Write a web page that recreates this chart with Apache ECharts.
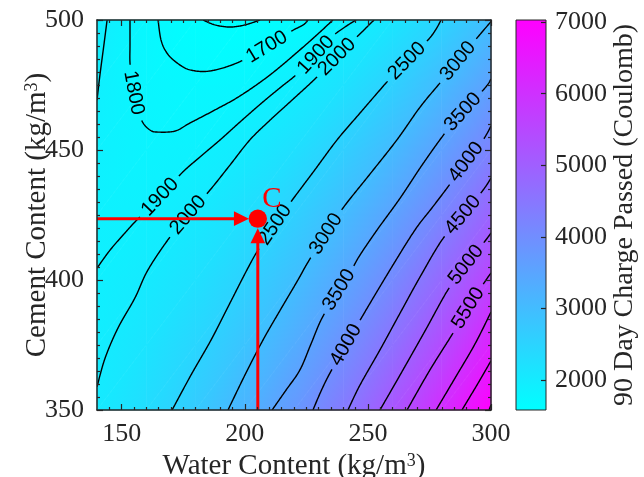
<!DOCTYPE html>
<html>
<head>
<meta charset="utf-8">
<script src="https://cdn.jsdelivr.net/npm/echarts@6/dist/echarts.min.js"></script>
<style>
html,body{margin:0;padding:0;background:#ffffff;}
#chart{width:644px;height:477px;}
</style>
</head>
<body>
<div id="chart"></div>
<script>
// ---------- data ----------
const waterNodes = [140,160,180,200,220,240,260,280,300];
const cementNodes = [350,375,400,425,450,475,500];
// rows follow cementNodes (350 -> 500), columns follow waterNodes (140 -> 300)
const chargeGrid = [
  [2030,2313,2694,3173,3751,4427,5202,6075,7046],
  [1956,2153,2450,2845,3339,3932,4624,5415,6305],
  [1906,2019,2230,2541,2952,3462,4072,4781,5589],
  [1882,1909,2036,2263,2590,3017,3544,4171,4898],
  [1883,1824,1867,2010,2253,2597,3041,3587,4232],
  [1908,1765,1723,1781,1941,2202,2564,3027,3591],
  [1959,1730,1603,1578,1654,1832,2111,2492,2975]
];
const colorMin = 1580, colorMax = 7030;
const colorTicks = [2000,3000,4000,5000,6000,7000];
const waterTicks = [150,200,250,300];
const cementTicks = [350,400,450,500];

const contour1600 = [[183.1,500],[187.9,498.1],[194.0,497.3],[200.1,498.1],[206.2,500]];
const contour1700 = [[164.8,500],[166.0,492.3],[168.4,487.3],[172.5,483.5],[177.8,480.8],[185.9,480.4],[196.9,483.5],[209.0,489.6],[218.4,495.4],[223.7,498.1],[225.7,500]];
const contour1800 = [[153.4,500],[153.4,490.4],[153.4,483.5],[154.2,476.9],[155.4,469.2],[157.1,464.2],[158.7,460.4],[161.5,457.7],[164.4,456.9],[171.7,457.3],[177.8,460.4],[187.9,465.4],[198.1,470.8],[210.3,478.9],[222.4,488.5],[230.6,495.4],[235.8,500]];
const contour1900a = [[144.1,500],[142.8,490.4],[141.2,478.9],[140.0,469.2]];
const contour1900b = [[140.0,404.6],[145.3,411.5],[150.6,417.3],[156.2,423.1],[165.6,431.9],[174.5,441.2],[181.8,447.3],[190.0,453.9],[198.1,460.8],[207.4,468.5],[214.3,473.9],[221.2,479.2],[228.9,486.5],[235.4,493.5],[240.7,497.3],[245.2,500]];
const contour2000 = [[140.0,358.9],[143.3,370.0],[148.5,381.5],[155.4,393.1],[160.7,403.9],[169.6,416.5],[177.0,425.0],[185.9,434.6],[194.0,444.2],[202.1,453.9],[210.3,461.5],[218.4,468.5],[228.5,477.3],[237.5,485.8],[246.0,493.9],[249.2,496.9],[252.5,500]];
const contour2500 = [[170.5,350],[178.2,363.5],[186.3,376.9],[193.6,390.4],[200.9,403.9],[205.4,411.5],[212.3,421.2],[218.4,429.6],[228.1,441.9],[237.5,453.9],[246.8,464.2],[254.9,473.1],[257.8,476.2],[265.9,484.2],[274.4,492.3],[277.7,496.5],[279.7,500]];
const contour3000 = [[193.2,350],[200.1,363.5],[207.4,376.9],[214.7,388.9],[221.6,400],[225.7,406.9],[233.0,417.7],[239.9,427.7],[250.9,440.8],[261.8,453.9],[271.2,466.5],[279.3,475.8],[286.6,484.2],[294.7,493.5],[300,499.4]];
const contour3500 = [[211.1,350],[216.8,357.7],[222.4,365.4],[226.9,375.4],[231.4,385.4],[238.3,396.2],[244.0,405.0],[246.8,409.6],[253.7,419.2],[263.1,431.5],[272.0,444.2],[281.3,456.5],[288.6,464.6],[297.6,473.9],[300,477.3]];
const contour4000 = [[227.7,350],[231.0,357.3],[234.6,364.2],[241.1,375.0],[247.6,385.8],[259.0,403.9],[269.1,419.2],[276.0,427.7],[282.5,435.8],[289.9,445.4],[296.8,453.9],[300,459.2]];
const contour4500 = [[241.9,350],[246.8,359.6],[254.9,373.1],[263.1,387.3],[271.2,401.2],[280.1,415.4],[288.6,425.0],[296.8,434.6],[300,439.2]];
const contour5000 = [[254.9,350],[263.1,363.5],[273.2,380.4],[282.5,396.2],[289.9,405.8],[297.6,415.0],[300,418.1]];
const contour5500 = [[265.9,350],[275.2,365.4],[284.6,379.6],[290.7,389.2],[297.2,398.9],[300,402.7]];
const contour6000 = [[277.7,350],[285.4,362.3],[293.5,375.4],[300,387.7]];
const contour6500 = [[288.2,350],[294.3,359.6],[300,368.9]];
const contour7000 = [[299.2,350],[300,351.9]];

const contourLines = [
  {level:1600, pts:contour1600},{level:1700, pts:contour1700},{level:1800, pts:contour1800},
  {level:1900, pts:contour1900a},{level:1900, pts:contour1900b},{level:2000, pts:contour2000},
  {level:2500, pts:contour2500},{level:3000, pts:contour3000},{level:3500, pts:contour3500},
  {level:4000, pts:contour4000},{level:4500, pts:contour4500},{level:5000, pts:contour5000},
  {level:5500, pts:contour5500},{level:6000, pts:contour6000},{level:6500, pts:contour6500},
  {level:7000, pts:contour7000}
];
// [water, cement, level]
const contourLabels = [
  [209.0,489.6,1700],[154.6,471.9,1800],[165.6,431.9,1900],[228.9,486.5,1900],
  [177.0,425.0,2000],[237.5,485.8,2000],[212.3,421.2,2500],[265.9,484.2,2500],
  [233.0,417.7,3000],[286.6,484.2,3000],[238.3,396.2,3500],[288.6,464.6,3500],
  [241.1,375.0,4000],[289.9,445.4,4000],[288.6,425.0,4500],[289.9,405.8,5000],
  [290.7,389.2,5500]
];
const pointC = [205.3,423.6];
const arrowFromLeft = [[140,423.6],[201.7,423.6]];
const arrowFromBottom = [[205.3,350],[205.3,419.9]];

// ---------- helpers ----------
const serif = "'Liberation Serif','Times New Roman',serif";
const sans = "'Liberation Sans',Arial,Helvetica,sans-serif";
const textCol = '#262626';
const GAP_R = 28;
const TICK_FS = 26, TITLE_FS = 29;

function colorOf(v){
  let t=(v-colorMin)/(colorMax-colorMin); t=Math.max(0,Math.min(1,t));
  return 'rgb('+Math.round(255*t)+','+Math.round(255*(1-t))+',255)';
}
function triFill(P,V){
  const d1x=P[1][0]-P[0][0], d1y=P[1][1]-P[0][1], d2x=P[2][0]-P[0][0], d2y=P[2][1]-P[0][1];
  const dv1=V[1]-V[0], dv2=V[2]-V[0];
  const det=d1x*d2y-d1y*d2x;
  const vmin=Math.min(V[0],V[1],V[2]), vmax=Math.max(V[0],V[1],V[2]);
  if (Math.abs(det)<1e-9 || vmax-vmin<1e-6) return colorOf(V[0]);
  const a=(dv1*d2y-dv2*d1y)/det, b=(d1x*dv2-d2x*dv1)/det;
  const g2=a*a+b*b;
  if (g2<1e-14) return colorOf(V[0]);
  const s0=(vmin-V[0])/g2, s1=(vmax-V[0])/g2;
  return new echarts.graphic.LinearGradient(P[0][0]+a*s0,P[0][1]+b*s0,P[0][0]+a*s1,P[0][1]+b*s1,
    [{offset:0,color:colorOf(vmin)},{offset:1,color:colorOf(vmax)}], true);
}
function smoothDense(pts){
  const out=[pts[0]];
  for(let i=0;i<pts.length-1;i++){
    const p0=pts[Math.max(0,i-1)], p1=pts[i], p2=pts[i+1], p3=pts[Math.min(pts.length-1,i+2)];
    const n=Math.max(1,Math.ceil(Math.hypot(p2[0]-p1[0],p2[1]-p1[1])));
    for(let s=1;s<=n;s++){
      const t=s/n,t2=t*t,t3=t2*t;
      const f=(k)=>0.5*(2*p1[k]+(-p0[k]+p2[k])*t+(2*p0[k]-5*p1[k]+4*p2[k]-p3[k])*t2+(-p0[k]+3*p1[k]-3*p2[k]+p3[k])*t3);
      out.push([f(0),f(1)]);
    }
  }
  return out;
}
function labelGeom(api){
  const dense=contourLines.map(l=>smoothDense(l.pts.map(p=>api.coord(p))));
  return contourLabels.map(L=>{
    const c=api.coord([L[0],L[1]]);
    let best=null;
    contourLines.forEach((l,li)=>{
      if(l.level!==L[2]) return;
      const d=dense[li];
      for(let k=0;k<d.length;k++){
        const dd=Math.hypot(d[k][0]-c[0],d[k][1]-c[1]);
        if(!best||dd<best.dd) best={dd,li,k};
      }
    });
    const d=dense[best.li];
    const a=d[Math.max(0,best.k-16)], b=d[Math.min(d.length-1,best.k+16)];
    let ang=Math.atan2(-(b[1]-a[1]),b[0]-a[0]);
    if(ang>Math.PI/2) ang-=Math.PI; if(ang<-Math.PI/2) ang+=Math.PI;
    return {level:L[2], pos:d[best.k], angle:ang};
  });
}
function cutAround(dense,centers,r){
  const pieces=[]; let cur=[];
  for(const p of dense){
    const inside=centers.some(c=>Math.hypot(p[0]-c[0],p[1]-c[1])<r);
    if(inside){ if(cur.length>1) pieces.push(cur); cur=[]; } else cur.push(p);
  }
  if(cur.length>1) pieces.push(cur);
  return pieces;
}
function minorTicks(lo,hi,step,majors){
  const r=[]; for(let v=lo+step; v<hi; v+=step){ if(majors.indexOf(v)<0) r.push(v);} return r;
}

// ---------- render items ----------
function fieldItem(params,api){
  const i=api.value(2), j=api.value(3);
  const p00=api.coord([waterNodes[i],cementNodes[j]]), p10=api.coord([waterNodes[i+1],cementNodes[j]]);
  const p01=api.coord([waterNodes[i],cementNodes[j+1]]), p11=api.coord([waterNodes[i+1],cementNodes[j+1]]);
  const v00=chargeGrid[j][i], v10=chargeGrid[j][i+1], v01=chargeGrid[j+1][i], v11=chargeGrid[j+1][i+1];
  const f1=triFill([p00,p10,p11],[v00,v10,v11]);
  const f2=triFill([p00,p11,p01],[v00,v11,v01]);
  return {type:'group',children:[
    {type:'polygon',shape:{points:[p00,p10,p11]},style:{fill:f1,stroke:f1,lineWidth:0.7}},
    {type:'polygon',shape:{points:[p00,p11,p01]},style:{fill:f2,stroke:f2,lineWidth:0.7}}
  ]};
}
function contourItem(params,api){
  const line=contourLines[api.value(2)];
  const dense=smoothDense(line.pts.map(p=>api.coord(p)));
  const centers=labelGeom(api).filter(g=>g.level===line.level).map(g=>g.pos);
  const pieces=cutAround(dense,centers,GAP_R);
  return {type:'group',children:pieces.map(pp=>({type:'polyline',shape:{points:pp},style:{stroke:'#000',lineWidth:1.4,fill:null}}))};
}
function labelItem(params,api){
  const g=labelGeom(api)[api.value(2)];
  return {type:'text',x:g.pos[0],y:g.pos[1],rotation:g.angle,
    style:{text:String(g.level),fontSize:20,fontFamily:sans,fill:'#000',align:'center',verticalAlign:'middle'}};
}
function annotItem(params,api){
  const ch=[];
  [arrowFromLeft,arrowFromBottom].forEach(a=>{
    const s=api.coord(a[0]), t=api.coord(a[1]);
    const dx=t[0]-s[0], dy=t[1]-s[1], L=Math.hypot(dx,dy), ux=dx/L, uy=dy/L;
    const hl=15, hw=7.3;
    const b=[t[0]-ux*hl,t[1]-uy*hl];
    ch.push({type:'line',shape:{x1:s[0],y1:s[1],x2:b[0]+ux,y2:b[1]+uy},style:{stroke:'#ff0000',lineWidth:3}});
    ch.push({type:'polygon',shape:{points:[t,[b[0]-uy*hw,b[1]+ux*hw],[b[0]+uy*hw,b[1]-ux*hw]]},style:{fill:'#ff0000'}});
  });
  const c=api.coord(pointC);
  ch.push({type:'circle',shape:{cx:c[0],cy:c[1],r:9.2},style:{fill:'#ff0000'}});
  ch.push({type:'text',x:c[0]+14,y:c[1]-19,style:{text:'C',fontSize:29,fontFamily:serif,fill:'#ff0000',align:'center',verticalAlign:'middle'}});
  return {type:'group',children:ch};
}
function colorbarItem(params,api){
  const p0=api.coord([0,colorMin]), p1=api.coord([1,colorMax]);
  const grad=new echarts.graphic.LinearGradient(0,1,0,0,[{offset:0,color:colorOf(colorMin)},{offset:1,color:colorOf(colorMax)}]);
  return {type:'rect',shape:{x:p0[0],y:p1[1],width:p1[0]-p0[0],height:p0[1]-p1[1]},style:{fill:grad,stroke:'#262626',lineWidth:1}};
}

// ---------- axes ----------
const frameLine={show:true,onZero:false,lineStyle:{color:'#262626',width:1.5}};
const tickStyle={color:'#262626',width:1.2};
const xMinor=minorTicks(140,300,5,waterTicks), yMinor=minorTicks(350,500,5,cementTicks);
const plain=v=>String(v);
function ax(extra){
  return Object.assign({gridIndex:0,type:'value',z:10,splitLine:{show:false},axisLine:{show:false,onZero:false},axisLabel:{show:false}},extra);
}
const titleStyle={fontFamily:serif,fontSize:TITLE_FS,color:textCol,rich:{sup:{fontFamily:serif,fontSize:18,color:textCol,verticalAlign:'top'}}};
const cellData=[];
for(let j=0;j<cementNodes.length-1;j++) for(let i=0;i<waterNodes.length-1;i++) cellData.push([waterNodes[i],cementNodes[j],i,j]);

const option={
  animation:false,
  backgroundColor:'#ffffff',
  grid:[
    {left:97,top:20,width:394,height:390,containLabel:false,outerBoundsMode:'none'},
    {left:516,top:20,width:30,height:390,containLabel:false,outerBoundsMode:'none'}
  ],
  xAxis:[
    ax({min:140,max:300,position:'bottom',axisLine:frameLine,
      axisTick:{show:true,inside:true,length:6,customValues:waterTicks,lineStyle:tickStyle},
      axisLabel:{show:true,customValues:waterTicks,formatter:plain,fontFamily:serif,fontSize:TICK_FS,color:textCol,margin:11},
      name:'Water Content (kg/m{sup|3})',nameLocation:'middle',nameGap:36,nameTextStyle:titleStyle}),
    ax({min:140,max:300,position:'bottom',axisTick:{show:true,inside:true,length:3,customValues:xMinor,lineStyle:tickStyle}}),
    ax({min:140,max:300,position:'top',axisLine:frameLine,axisTick:{show:true,inside:true,length:6,customValues:waterTicks,lineStyle:tickStyle}}),
    ax({min:140,max:300,position:'top',axisTick:{show:true,inside:true,length:3,customValues:xMinor,lineStyle:tickStyle}}),
    {gridIndex:1,type:'value',min:0,max:1,show:false}
  ],
  yAxis:[
    ax({min:350,max:500,position:'left',axisLine:frameLine,
      axisTick:{show:true,inside:true,length:6,customValues:cementTicks,lineStyle:tickStyle},
      axisLabel:{show:true,customValues:cementTicks,formatter:plain,fontFamily:serif,fontSize:TICK_FS,color:textCol,margin:13},
      name:'Cement Content (kg/m{sup|3})',nameLocation:'middle',nameGap:45,nameRotate:90,nameMoveOverlap:false,nameTextStyle:titleStyle}),
    ax({min:350,max:500,position:'left',axisTick:{show:true,inside:true,length:3,customValues:yMinor,lineStyle:tickStyle}}),
    ax({min:350,max:500,position:'right',axisLine:frameLine,axisTick:{show:true,inside:true,length:6,customValues:cementTicks,lineStyle:tickStyle}}),
    ax({min:350,max:500,position:'right',axisTick:{show:true,inside:true,length:3,customValues:yMinor,lineStyle:tickStyle}}),
    {gridIndex:1,type:'value',min:colorMin,max:colorMax,position:'right',z:10,
      axisLine:{show:false,onZero:false},splitLine:{show:false},
      axisTick:{show:true,inside:true,length:5,customValues:colorTicks,lineStyle:tickStyle},
      axisLabel:{show:true,customValues:colorTicks,formatter:plain,fontFamily:serif,fontSize:TICK_FS,color:textCol,margin:9},
      name:'90 Day Charge Passed (Coulomb)',nameLocation:'middle',nameRotate:90,nameGap:60,
      nameTextStyle:{fontFamily:serif,fontSize:28,color:textCol}}
  ],
  series:[
    {type:'custom',name:'field',coordinateSystem:'cartesian2d',xAxisIndex:0,yAxisIndex:0,silent:true,z:1,
      data:cellData,renderItem:fieldItem},
    {type:'custom',name:'contours',coordinateSystem:'cartesian2d',xAxisIndex:0,yAxisIndex:0,silent:true,z:2,clip:true,
      data:contourLines.map((l,k)=>[l.pts[0][0],l.pts[0][1],k]),renderItem:contourItem},
    {type:'custom',name:'labels',coordinateSystem:'cartesian2d',xAxisIndex:0,yAxisIndex:0,silent:true,z:3,
      data:contourLabels.map((l,k)=>[l[0],l[1],k]),renderItem:labelItem},
    {type:'custom',name:'pointC',coordinateSystem:'cartesian2d',xAxisIndex:0,yAxisIndex:0,silent:true,z:4,
      data:[[pointC[0],pointC[1]]],renderItem:annotItem},
    {type:'custom',name:'colorbar',coordinateSystem:'cartesian2d',xAxisIndex:4,yAxisIndex:4,silent:true,z:1,
      data:[[0,colorMin,1,colorMax]],renderItem:colorbarItem}
  ]
};
const chart=echarts.init(document.getElementById('chart'),null,{renderer:'canvas',width:644,height:477});
chart.setOption(option);
</script>
</body>
</html>
